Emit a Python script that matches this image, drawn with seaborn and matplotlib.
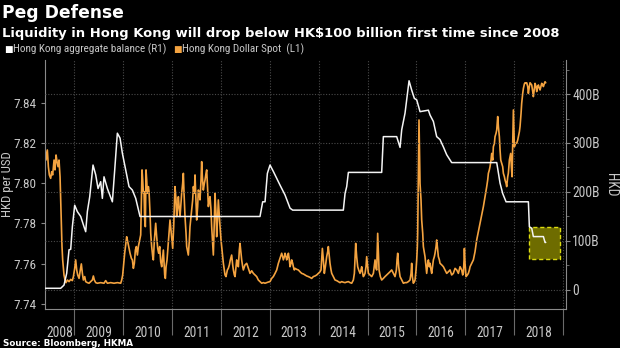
import matplotlib
matplotlib.use("Agg")
import matplotlib.pyplot as plt
from matplotlib import font_manager
from matplotlib.ticker import FixedLocator
import seaborn as sns
import pandas as pd

# ---------------- data ----------------
# Hong Kong Dollar Spot (left axis, HKD per USD), (decimal year, value)
hkd_spot_2008_2010 = [
    (2008.377, 7.8132), (2008.397, 7.8178), (2008.418, 7.8115), (2008.445, 7.8165), (2008.466, 7.8082),
    (2008.486, 7.8041), (2008.513, 7.8024), (2008.534, 7.8057), (2008.554, 7.8041), (2008.582, 7.8115),
    (2008.602, 7.8066), (2008.623, 7.8140), (2008.643, 7.8107), (2008.664, 7.8082), (2008.684, 7.8115),
    (2008.705, 7.8032), (2008.718, 7.7917), (2008.732, 7.7784), (2008.745, 7.7685), (2008.759, 7.7619),
    (2008.773, 7.7577), (2008.786, 7.7544), (2008.807, 7.7519), (2008.827, 7.7506), (2008.855, 7.7519),
    (2008.889, 7.7511), (2008.923, 7.7522), (2008.957, 7.7516), (2008.978, 7.7536), (2009.005, 7.7577),
    (2009.025, 7.7619), (2009.046, 7.7569), (2009.066, 7.7544), (2009.094, 7.7527), (2009.114, 7.7560),
    (2009.141, 7.7599), (2009.162, 7.7552), (2009.182, 7.7519), (2009.210, 7.7536), (2009.230, 7.7511),
    (2009.264, 7.7506), (2009.298, 7.7503), (2009.332, 7.7511), (2009.366, 7.7519), (2009.387, 7.7539),
    (2009.407, 7.7519), (2009.435, 7.7506), (2009.469, 7.7503), (2009.537, 7.7506), (2009.605, 7.7503),
    (2009.639, 7.7516), (2009.674, 7.7503), (2009.742, 7.7506), (2009.810, 7.7503), (2009.878, 7.7506),
    (2009.947, 7.7503), (2009.967, 7.7519), (2009.987, 7.7544), (2010.008, 7.7602), (2010.028, 7.7652),
    (2010.049, 7.7693), (2010.069, 7.7734), (2010.090, 7.7710), (2010.117, 7.7676), (2010.138, 7.7652),
    (2010.165, 7.7627), (2010.185, 7.7619), (2010.206, 7.7577), (2010.226, 7.7602), (2010.247, 7.7668),
    (2010.267, 7.7685), (2010.288, 7.7643), (2010.308, 7.7685), (2010.329, 7.7710), (2010.356, 7.7743),
    (2010.370, 7.7900), (2010.383, 7.8066), (2010.397, 7.8016), (2010.411, 7.7950), (2010.424, 7.7958),
    (2010.438, 7.7817), (2010.451, 7.7784), (2010.465, 7.8066), (2010.479, 7.8016), (2010.492, 7.7950),
    (2010.513, 7.7983), (2010.527, 7.7958), (2010.547, 7.7850), (2010.561, 7.7751), (2010.581, 7.7685),
    (2010.602, 7.7635), (2010.615, 7.7619), (2010.636, 7.7718), (2010.663, 7.7801), (2010.683, 7.7734),
    (2010.704, 7.7676), (2010.724, 7.7652), (2010.745, 7.7685), (2010.765, 7.7610), (2010.786, 7.7585),
    (2010.806, 7.7635), (2010.820, 7.7668), (2010.834, 7.7602), (2010.847, 7.7544), (2010.861, 7.7527),
    (2010.875, 7.7585), (2010.895, 7.7619), (2010.915, 7.7685), (2010.936, 7.7751),
]
hkd_spot_2011_2013 = [
    (2010.956, 7.7817), (2010.976, 7.7767), (2010.997, 7.7710), (2011.011, 7.7676), (2011.031, 7.7784),
    (2011.045, 7.7884), (2011.058, 7.7983), (2011.079, 7.7917), (2011.092, 7.7834), (2011.113, 7.7884),
    (2011.127, 7.7933), (2011.147, 7.7867), (2011.161, 7.7834), (2011.181, 7.7900), (2011.195, 7.7950),
    (2011.215, 7.7999), (2011.229, 7.8049), (2011.243, 7.7950), (2011.263, 7.7834), (2011.284, 7.7751),
    (2011.297, 7.7685), (2011.318, 7.7660), (2011.331, 7.7643), (2011.352, 7.7718), (2011.365, 7.7784),
    (2011.386, 7.7834), (2011.400, 7.7867), (2011.420, 7.7917), (2011.434, 7.7983), (2011.454, 7.7950),
    (2011.468, 7.8041), (2011.488, 7.7917), (2011.502, 7.7817), (2011.522, 7.7884), (2011.536, 7.7966),
    (2011.556, 7.7950), (2011.570, 7.7917), (2011.591, 7.8016), (2011.604, 7.8107), (2011.618, 7.8032),
    (2011.638, 7.7966), (2011.659, 7.7999), (2011.673, 7.8016), (2011.693, 7.8049), (2011.707, 7.8066),
    (2011.727, 7.7966), (2011.741, 7.7884), (2011.761, 7.7917), (2011.775, 7.7933), (2011.795, 7.7867),
    (2011.809, 7.7784), (2011.829, 7.7701), (2011.843, 7.7643), (2011.864, 7.7817), (2011.877, 7.7950),
    (2011.898, 7.7850), (2011.911, 7.7734), (2011.932, 7.7834), (2011.945, 7.7917), (2011.966, 7.7834),
    (2011.980, 7.7784), (2012.000, 7.7718), (2012.014, 7.7685), (2012.034, 7.7635), (2012.048, 7.7602),
    (2012.068, 7.7569), (2012.082, 7.7544), (2012.102, 7.7536), (2012.130, 7.7569), (2012.150, 7.7577),
    (2012.171, 7.7594), (2012.191, 7.7619), (2012.218, 7.7643), (2012.239, 7.7594), (2012.253, 7.7569),
    (2012.273, 7.7544), (2012.287, 7.7536), (2012.307, 7.7585), (2012.321, 7.7619), (2012.341, 7.7594),
    (2012.355, 7.7585), (2012.375, 7.7668), (2012.389, 7.7701), (2012.410, 7.7652), (2012.423, 7.7619),
    (2012.444, 7.7585), (2012.457, 7.7569), (2012.491, 7.7594), (2012.526, 7.7602), (2012.560, 7.7577),
    (2012.594, 7.7552), (2012.628, 7.7565), (2012.662, 7.7552), (2012.696, 7.7544), (2012.730, 7.7536),
    (2012.764, 7.7519), (2012.798, 7.7511), (2012.833, 7.7503), (2012.867, 7.7506), (2012.901, 7.7503),
    (2012.935, 7.7506), (2012.969, 7.7509), (2013.003, 7.7511), (2013.037, 7.7527), (2013.071, 7.7536),
    (2013.106, 7.7552), (2013.140, 7.7569), (2013.174, 7.7602), (2013.208, 7.7627), (2013.228, 7.7643),
    (2013.242, 7.7652), (2013.262, 7.7635), (2013.276, 7.7619), (2013.297, 7.7635), (2013.310, 7.7652),
    (2013.331, 7.7635), (2013.344, 7.7619), (2013.365, 7.7635), (2013.379, 7.7652), (2013.399, 7.7619),
    (2013.413, 7.7585), (2013.433, 7.7602), (2013.447, 7.7619), (2013.467, 7.7602), (2013.481, 7.7585),
    (2013.501, 7.7569),
]
hkd_spot_2013_2016 = [
    (2013.515, 7.7577), (2013.549, 7.7572), (2013.583, 7.7569), (2013.617, 7.7560), (2013.651, 7.7552),
    (2013.686, 7.7549), (2013.720, 7.7544), (2013.754, 7.7539), (2013.788, 7.7536), (2013.822, 7.7532),
    (2013.856, 7.7527), (2013.890, 7.7536), (2013.924, 7.7539), (2013.959, 7.7544), (2013.993, 7.7552),
    (2014.027, 7.7560), (2014.047, 7.7569), (2014.061, 7.7619), (2014.075, 7.7676), (2014.095, 7.7619),
    (2014.115, 7.7552), (2014.136, 7.7585), (2014.163, 7.7635), (2014.184, 7.7660), (2014.197, 7.7685),
    (2014.218, 7.7635), (2014.231, 7.7602), (2014.252, 7.7569), (2014.266, 7.7552), (2014.300, 7.7536),
    (2014.334, 7.7519), (2014.368, 7.7516), (2014.402, 7.7511), (2014.436, 7.7506), (2014.470, 7.7511),
    (2014.504, 7.7508), (2014.539, 7.7506), (2014.573, 7.7509), (2014.607, 7.7511), (2014.641, 7.7506),
    (2014.675, 7.7503), (2014.709, 7.7519), (2014.730, 7.7552), (2014.743, 7.7619), (2014.757, 7.7701),
    (2014.777, 7.7635), (2014.798, 7.7585), (2014.818, 7.7569), (2014.846, 7.7552), (2014.866, 7.7569),
    (2014.880, 7.7585), (2014.900, 7.7552), (2014.914, 7.7536), (2014.934, 7.7544), (2014.948, 7.7552),
    (2014.968, 7.7585), (2014.982, 7.7635), (2015.003, 7.7585), (2015.016, 7.7552), (2015.050, 7.7544),
    (2015.085, 7.7536), (2015.119, 7.7552), (2015.139, 7.7594), (2015.153, 7.7619), (2015.173, 7.7577),
    (2015.187, 7.7569), (2015.201, 7.7685), (2015.207, 7.7751), (2015.221, 7.7652), (2015.235, 7.7569),
    (2015.262, 7.7536), (2015.289, 7.7519), (2015.323, 7.7527), (2015.357, 7.7536), (2015.392, 7.7544),
    (2015.426, 7.7552), (2015.460, 7.7560), (2015.494, 7.7569), (2015.528, 7.7552), (2015.562, 7.7536),
    (2015.590, 7.7569), (2015.603, 7.7619), (2015.617, 7.7652), (2015.637, 7.7585), (2015.665, 7.7536),
    (2015.699, 7.7519), (2015.733, 7.7503), (2015.767, 7.7506), (2015.801, 7.7506), (2015.835, 7.7511),
    (2015.869, 7.7519), (2015.890, 7.7552), (2015.903, 7.7602), (2015.917, 7.7536), (2015.937, 7.7503),
    (2015.958, 7.7511), (2015.972, 7.7519), (2015.992, 7.7569), (2016.006, 7.7619), (2016.019, 7.7685),
    (2016.026, 7.7751), (2016.040, 7.8032), (2016.053, 7.8314), (2016.067, 7.8115),
]
hkd_spot_2016_2018 = [
    (2016.074, 7.7999), (2016.094, 7.7917), (2016.108, 7.7817), (2016.129, 7.7751), (2016.142, 7.7685),
    (2016.163, 7.7652), (2016.176, 7.7635), (2016.197, 7.7585), (2016.210, 7.7552), (2016.231, 7.7602),
    (2016.245, 7.7619), (2016.265, 7.7585), (2016.279, 7.7602), (2016.299, 7.7569), (2016.313, 7.7552),
    (2016.333, 7.7594), (2016.347, 7.7619), (2016.367, 7.7635), (2016.381, 7.7652), (2016.402, 7.7685),
    (2016.415, 7.7718), (2016.436, 7.7668), (2016.449, 7.7635), (2016.470, 7.7619), (2016.483, 7.7602),
    (2016.518, 7.7594), (2016.552, 7.7585), (2016.586, 7.7569), (2016.620, 7.7552), (2016.654, 7.7560),
    (2016.688, 7.7569), (2016.722, 7.7544), (2016.756, 7.7552), (2016.791, 7.7577), (2016.825, 7.7569),
    (2016.859, 7.7552), (2016.893, 7.7585), (2016.927, 7.7569), (2016.947, 7.7544), (2016.961, 7.7552),
    (2016.975, 7.7619), (2016.982, 7.7676), (2016.995, 7.7602), (2017.016, 7.7536), (2017.043, 7.7544),
    (2017.063, 7.7552), (2017.084, 7.7569), (2017.098, 7.7585), (2017.132, 7.7602), (2017.166, 7.7619),
    (2017.200, 7.7660), (2017.234, 7.7718), (2017.268, 7.7759), (2017.302, 7.7801), (2017.336, 7.7842),
    (2017.371, 7.7884), (2017.405, 7.7933), (2017.439, 7.7983), (2017.459, 7.8016), (2017.473, 7.8049),
    (2017.493, 7.8066), (2017.507, 7.8082), (2017.527, 7.8115), (2017.541, 7.8148), (2017.562, 7.8115),
    (2017.575, 7.8181), (2017.596, 7.8198), (2017.609, 7.8231), (2017.630, 7.8248), (2017.644, 7.8264),
    (2017.664, 7.8331), (2017.678, 7.8281), (2017.698, 7.8231), (2017.712, 7.8165), (2017.726, 7.8115),
    (2017.746, 7.8099), (2017.766, 7.8082), (2017.780, 7.8049), (2017.801, 7.8032), (2017.814, 7.8016),
    (2017.835, 7.7999), (2017.848, 7.7983), (2017.869, 7.8032), (2017.882, 7.8049), (2017.903, 7.8115),
    (2017.917, 7.8132), (2017.930, 7.8148), (2017.944, 7.8082), (2017.958, 7.8032), (2017.971, 7.8198),
    (2017.985, 7.8364), (2017.998, 7.8248), (2018.005, 7.8181), (2018.026, 7.8198), (2018.053, 7.8198),
    (2018.074, 7.8215), (2018.087, 7.8231), (2018.108, 7.8256), (2018.121, 7.8281), (2018.142, 7.8347),
    (2018.155, 7.8397), (2018.176, 7.8446), (2018.190, 7.8471), (2018.210, 7.8493), (2018.224, 7.8499),
    (2018.244, 7.8496), (2018.258, 7.8499), (2018.278, 7.8480), (2018.292, 7.8446), (2018.312, 7.8480),
    (2018.326, 7.8499), (2018.346, 7.8493), (2018.360, 7.8488), (2018.381, 7.8455), (2018.394, 7.8430),
    (2018.415, 7.8471), (2018.428, 7.8496), (2018.449, 7.8480), (2018.462, 7.8455), (2018.483, 7.8480),
    (2018.497, 7.8488), (2018.517, 7.8471), (2018.531, 7.8463), (2018.551, 7.8483), (2018.565, 7.8496),
    (2018.585, 7.8488), (2018.599, 7.8480), (2018.620, 7.8496), (2018.633, 7.8504), (2018.647, 7.8499),
]

# Hong Kong aggregate balance (right axis, HKD billion)
balance_year = [2008.39, 2008.718, 2008.786, 2008.841, 2008.889, 2008.923, 2008.957, 2009.005, 2009.059, 2009.128,
                2009.196, 2009.230, 2009.264, 2009.312, 2009.380, 2009.435, 2009.483, 2009.537, 2009.571, 2009.605,
                2009.674, 2009.776, 2009.824, 2009.878, 2009.933, 2009.981, 2010.049, 2010.117, 2010.185, 2010.254,
                2010.342, 2012.798, 2012.853, 2012.901, 2012.949, 2013.003, 2013.071, 2013.208, 2013.310, 2013.413,
                2013.467, 2014.504, 2014.539, 2014.573, 2014.607, 2015.289, 2015.323, 2015.596, 2015.665, 2015.699,
                2015.767, 2015.849, 2015.903, 2015.958, 2016.006, 2016.074, 2016.245, 2016.279, 2016.347, 2016.415,
                2016.449, 2016.483, 2016.552, 2016.620, 2016.722, 2017.644, 2017.712, 2017.766, 2017.835, 2018.292,
                2018.312, 2018.360, 2018.394, 2018.599, 2018.633, 2018.647]
balance_bn = [3.5, 3.5, 10, 34, 82, 83, 129, 173, 160, 150,
              129, 119, 160, 190, 255, 235, 207, 221, 187, 231,
              207, 180, 245, 320, 310, 279, 245, 211, 204, 187,
              150, 150, 180, 180, 238, 255, 242, 214, 194, 167,
              163, 163, 197, 211, 240, 240, 313, 313, 291, 327,
              361, 427, 408, 391, 388, 364, 367, 357, 344, 313,
              310, 307, 292, 276, 260, 260, 218, 197, 180, 180,
              129, 126, 109, 109, 97, 97]

# highlight box (year range, HKD billion range)
box_years = [2018.31, 2018.93]
box_bn = [63, 129]

year_bounds = [2009, 2010, 2011, 2012, 2013, 2014, 2015, 2016, 2017, 2018, 2019]
year_label_pos = [2008.70, 2009.5, 2010.5, 2011.5, 2012.5, 2013.5, 2014.5, 2015.5, 2016.5, 2017.5, 2018.5]
year_labels = ["2008", "2009", "2010", "2011", "2012", "2013", "2014", "2015", "2016", "2017", "2018"]
left_ticks = [7.74, 7.76, 7.78, 7.80, 7.82, 7.84]
left_labels = ["7.74", "7.76", "7.78", "7.80", "7.82", "7.84"]
right_ticks = [0, 100, 200, 300, 400]
right_minor = [50, 150, 250, 350, 450]
right_labels = ["0", "100B", "200B", "300B", "400B"]

# ---------------- fonts ----------------
def pick(names):
    for n in names:
        try:
            font_manager.findfont(font_manager.FontProperties(family=n), fallback_to_default=False)
            return n
        except Exception:
            pass
    return "DejaVu Sans"

narrow = pick(["Liberation Sans Narrow", "DejaVu Sans Condensed", "Roboto Condensed", "Liberation Sans"])

sns.set_theme(style="dark", rc={"axes.facecolor": "black", "figure.facecolor": "black",
                                "savefig.facecolor": "black", "axes.edgecolor": "#777777"})
plt.rcParams["font.family"] = [narrow, "DejaVu Sans"]

ORANGE = "#f4a340"
GRID = "#4a4a4a"
TXT = "#c8c8c8"

hkd_all = hkd_spot_2008_2010 + hkd_spot_2011_2013 + hkd_spot_2013_2016 + hkd_spot_2016_2018
df_hkd = pd.DataFrame({"year": [p[0] for p in hkd_all], "rate": [p[1] for p in hkd_all]})
df_bal = pd.DataFrame({"year": balance_year, "bn": balance_bn})

fig = plt.figure(figsize=(6.2, 3.48), dpi=100)
ax = fig.add_axes([45 / 620, 1 - 309 / 348, (566 - 45) / 620, (309 - 60) / 348])
ax2 = ax.twinx()

sns.lineplot(data=df_hkd, x="year", y="rate", ax=ax, color=ORANGE, linewidth=1.2,
             estimator=None, sort=False)
ax2.fill_between(box_years, box_bn[0], box_bn[1], facecolor="#6e6c00", edgecolor="#dcdc10",
                 linestyle=(0, (3, 2)), linewidth=1.0, zorder=1)
sns.lineplot(data=df_bal, x="year", y="bn", ax=ax2, color="#f4f4f4", linewidth=1.1,
             estimator=None, sort=False, zorder=3)

ax.set_xlim(2008.397, 2019.062)
ax.set_ylim(7.7375, 7.8612)
ax2.set_ylim(-38.8, 469.4)

ax.set_xlabel("")
ax.set_ylabel("")
ax2.set_ylabel("")

# x axis: year separators + centred labels
ax.set_xticks(year_bounds)
ax.set_xticklabels([""] * len(year_bounds))
ax.xaxis.set_minor_locator(FixedLocator(year_label_pos))
ax.set_xticks(year_label_pos, minor=True)
ax.set_xticklabels(year_labels, minor=True)
ax.tick_params(axis="x", which="major", bottom=True, length=19, width=0.8, color="#6a6a6a")
ax.tick_params(axis="x", which="minor", bottom=True, length=0, pad=12, labelsize=9.8, labelcolor=TXT)

ax.set_yticks(left_ticks)
ax.set_yticklabels(left_labels)
ax.tick_params(axis="y", which="major", left=True, length=3, width=0.8, color="#888888",
               labelsize=9.5, labelcolor=TXT, pad=3)

ax2.set_yticks(right_ticks)
ax2.set_yticklabels(right_labels)
ax2.yaxis.set_minor_locator(FixedLocator(right_minor))
ax2.tick_params(axis="y", which="major", right=True, length=3, width=0.8, color="#888888",
                labelsize=9.8, labelcolor=TXT, pad=1.5)
ax2.tick_params(axis="y", which="minor", right=True, length=2, width=0.7, color="#666666")

ax.grid(False)
ax2.grid(False)
ax.grid(axis="x", which="major", color=GRID, linestyle=(0, (1, 1.5)), linewidth=0.8)
ax2.grid(axis="y", which="major", color=GRID, linestyle=(0, (1, 1.5)), linewidth=0.8)
ax2.set_axisbelow(True)

for s in ["top", "right"]:
    ax.spines[s].set_visible(False)
for s in ["top", "left", "bottom"]:
    ax2.spines[s].set_visible(False)
for s in ["left", "bottom"]:
    ax.spines[s].set_color("#8a8a8a")
    ax.spines[s].set_linewidth(0.8)
ax2.spines["right"].set_color("#8a8a8a")
ax2.spines["right"].set_linewidth(0.8)

# axis titles
fig.text(7.5 / 620, 1 - 184 / 348, "HKD per USD", rotation=90, ha="center", va="center",
         fontsize=9.3, color=TXT)
fig.text(611 / 620, 1 - 185 / 348, "HKD", rotation=270, ha="center", va="center",
         fontsize=9.8, color=TXT)

# header
fig.text(2 / 620, 1 - 18.5 / 348, "Peg Defense", fontsize=12.3, fontweight="bold",
         color="white", family="DejaVu Sans", va="baseline")
fig.text(2 / 620, 1 - 36.5 / 348, "Liquidity in Hong Kong will drop below HK$100 billion first time since 2008",
         fontsize=9.45, fontweight="bold", color="white", family="DejaVu Sans", va="baseline")

# legend
fig.text(4 / 620, 1 - 49.5 / 348, "\u25a0", fontsize=6.5, color="white", family="DejaVu Sans",
         va="center", ha="left")
fig.text(13 / 620, 1 - 49.5 / 348, "Hong Kong aggregate balance (R1)", fontsize=8, color=TXT,
         va="center", ha="left")
fig.text(173 / 620, 1 - 49.5 / 348, "\u25a0", fontsize=6.5, color=ORANGE, family="DejaVu Sans",
         va="center", ha="left")
fig.text(182 / 620, 1 - 49.5 / 348, "Hong Kong Dollar Spot  (L1)", fontsize=8, color=TXT,
         va="center", ha="left")

# source
fig.text(3 / 620, 1 - 345.5 / 348, "Source: Bloomberg, HKMA", fontsize=6.3, fontweight="bold",
         color="white", family="DejaVu Sans", va="baseline")

fig.savefig("out.png", dpi=100, facecolor="black")
